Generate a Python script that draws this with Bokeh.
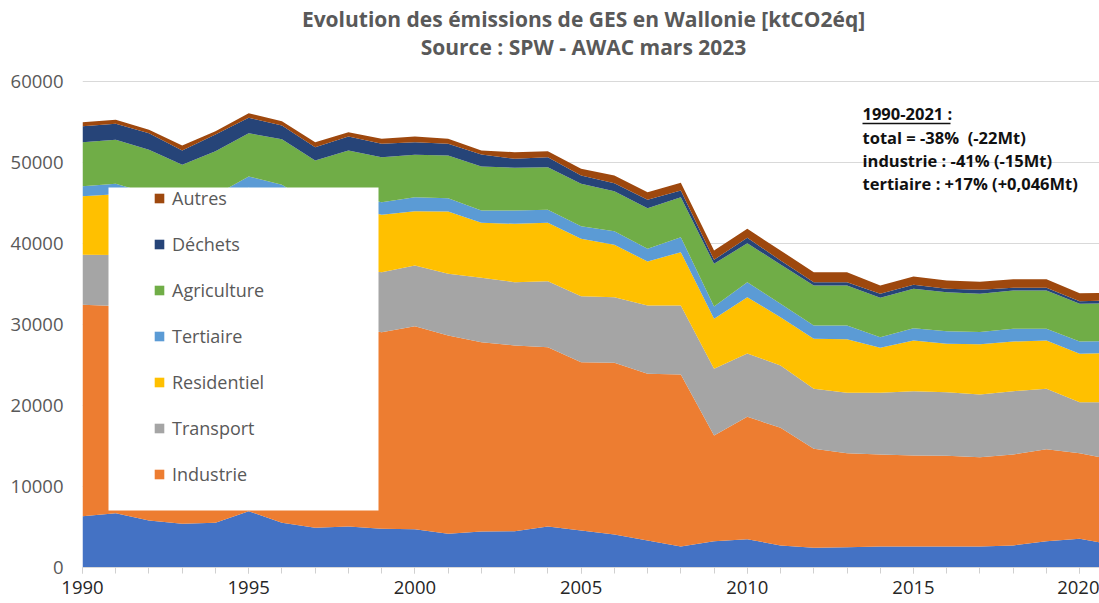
from bokeh.plotting import figure
from bokeh.models import (ColumnDataSource, Range1d, SingleIntervalTicker, FixedTicker, Legend, LegendItem,
                          BoxAnnotation, Label, NumeralTickFormatter)
from bokeh.embed import file_html
from bokeh.resources import INLINE

# ---------------- data (kt CO2eq) ----------------
years = list(range(1990, 2022))

energie = [6340, 6710, 5800, 5390, 5510, 6950, 5510, 4900, 5060, 4770, 4730, 4160, 4440, 4480, 5060, 4570,
           4070, 3330, 2590, 3250, 3500, 2720, 2430, 2500, 2590, 2590, 2590, 2590, 2720, 3250, 3540, 2800]
industrie = [26090, 25560, 25470, 23830, 25490, 25820, 24940, 24050, 24620, 24280, 25060, 24480, 23380, 22930,
             22140, 20780, 21200, 20580, 21240, 13050, 15100, 14520, 12220, 11610, 11360, 11240, 11200, 11030,
             11230, 11360, 10570, 10500]
transport = [6170, 6300, 6500, 6600, 6800, 6900, 7000, 7100, 7300, 7410, 7490, 7620, 7950, 7810, 8150, 8150,
             8100, 8440, 8520, 8230, 7820, 7700, 7410, 7450, 7610, 7940, 7860, 7740, 7820, 7450, 6300, 7100]
residentiel = [7240, 7500, 7100, 7300, 6900, 7200, 8300, 7300, 7500, 7080, 6710, 7690, 6790, 7210, 7210, 7080,
               6470, 5430, 6580, 6170, 6950, 5960, 6170, 6630, 5560, 6260, 5970, 6210, 6130, 5970, 5970, 6100]
tertiaire = [1240, 1300, 1300, 1300, 1300, 1400, 1500, 1400, 1500, 1560, 1730, 1650, 1520, 1650, 1600, 1560,
             1680, 1570, 1850, 1520, 1850, 1650, 1650, 1690, 1310, 1520, 1560, 1490, 1570, 1440, 1520, 1450]
agriculture = [5430, 5430, 5400, 5300, 5400, 5350, 5630, 5500, 5500, 5560, 5230, 5260, 5430, 5270, 5260, 5230,
               4940, 5010, 4940, 5270, 4820, 4860, 4930, 4930, 4860, 4860, 4810, 4730, 4730, 4730, 4650, 4650]
dechets = [1980, 1980, 2050, 1760, 2060, 1900, 1690, 1640, 1730, 1650, 1560, 1450, 1480, 1100, 1240, 1030,
           990, 1040, 820, 500, 680, 490, 410, 410, 500, 490, 420, 500, 330, 330, 330, 350]
autres = [490, 490, 420, 620, 410, 570, 530, 620, 540, 620, 700, 620, 490, 830, 740, 820,
          950, 940, 950, 1150, 1090, 1240, 1240, 1240, 1020, 1030, 1020, 1000, 1060, 1060, 990, 950]

series_names = ["Energie", "Industrie", "Transport", "Residentiel", "Tertiaire", "Agriculture", "Déchets", "Autres"]
series_values = [energie, industrie, transport, residentiel, tertiaire, agriculture, dechets, autres]
colors = ["#4472C4", "#ED7D31", "#A5A5A5", "#FFC000", "#5B9BD5", "#70AD47", "#264478", "#9E480E"]
legend_order = ["Autres", "Déchets", "Agriculture", "Tertiaire", "Residentiel", "Transport", "Industrie"]
y_ticks = [0, 10000, 20000, 30000, 40000, 50000, 60000]

title_1 = "Evolution des émissions de GES en Wallonie [ktCO2éq]"
title_2 = "Source : SPW - AWAC mars 2023"
note_head = "1990-2021 :"
note_lines = ["total = -38% \u00a0(-22Mt)", "industrie : -41% (-15Mt)", "tertiaire : +17% (+0,046Mt)"]

# ---------------- layout ----------------
FONT = "Open Sans"
W, H = 1099, 603
ML, MT, MB, MR = 82, 0, 36, 0
FL, FR, FT, FB = ML, W - MR, MT, H - MB      # frame edges in page px
PX_PER_YEAR = 33.24
PX_PER_UNIT = 486 / 60000.0
X0 = 1990
X1 = X0 + (FR - FL) / PX_PER_YEAR
Y0 = 0
Y1 = (FB - FT) / PX_PER_UNIT


def px_x(px):
    return X0 + (px - FL) / PX_PER_YEAR


def px_y(py):
    return Y0 + (FB - py) / PX_PER_UNIT


src = ColumnDataSource(dict(year=years, **{n: v for n, v in zip(series_names, series_values)}))

p = figure(width=W, height=H, output_backend="svg", toolbar_location=None, title=None,
           x_range=Range1d(X0, X1), y_range=Range1d(Y0, Y1),
           min_border_left=ML, min_border_right=MR, min_border_top=MT, min_border_bottom=MB)
p.outline_line_color = None
p.background_fill_color = "white"
p.border_fill_color = "white"

renderers = p.varea_stack(stackers=series_names, x="year", color=colors, source=src)
by_name = dict(zip(series_names, renderers))

# axes
p.xgrid.grid_line_color = None
p.ygrid.grid_line_color = "#D9D9D9"
p.ygrid.grid_line_width = 1

p.yaxis.ticker = FixedTicker(ticks=y_ticks)
p.yaxis.formatter = NumeralTickFormatter(format="0")
p.yaxis.axis_line_color = None
p.yaxis.major_tick_line_color = None
p.yaxis.minor_tick_line_color = None
p.yaxis.major_tick_out = 0
p.yaxis.major_tick_in = 0
p.yaxis.major_label_standoff = 19
p.yaxis.major_label_text_font = FONT
p.yaxis.major_label_text_font_size = "18.5px"
p.yaxis.major_label_text_color = "#595959"

p.xaxis.ticker = SingleIntervalTicker(interval=5, num_minor_ticks=5)
p.xaxis.axis_line_color = "#D9D9D9"
p.xaxis.axis_line_width = 1
p.xaxis.major_tick_line_color = "#D0D0D0"
p.xaxis.minor_tick_line_color = "#D0D0D0"
p.xaxis.major_tick_in = 0
p.xaxis.major_tick_out = 6
p.xaxis.minor_tick_in = 0
p.xaxis.minor_tick_out = 6
p.xaxis.major_label_standoff = 7
p.xaxis.major_label_text_font = FONT
p.xaxis.major_label_text_font_size = "18.5px"
p.xaxis.major_label_text_color = "#262626"

# legend box + legend
box = BoxAnnotation(left=px_x(108), right=px_x(378), top=px_y(187), bottom=px_y(510),
                    fill_color="white", fill_alpha=1.0, line_alpha=0)
p.add_layout(box)

legend = Legend(items=[LegendItem(label=n, renderers=[by_name[n]]) for n in legend_order],
                location=(153 - FL, FB - 486), orientation="vertical",
                padding=0, margin=0, spacing=21, label_height=25,
                glyph_height=12, glyph_width=12, label_standoff=7,
                background_fill_alpha=0, border_line_alpha=0,
                label_text_font=FONT, label_text_font_size="18px", label_text_color="#595959")
p.add_layout(legend)

# titles
for txt, py in [(title_1, 18), (title_2, 46)]:
    p.add_layout(Label(x=px_x(583), y=px_y(py), text=txt, text_align="center", text_baseline="middle",
                       text_font=FONT, text_font_style="bold", text_font_size="21px", text_color="#595959"))

# annotation
note_y = [113, 137, 160, 183]
for txt, py in zip([note_head] + note_lines, note_y):
    p.add_layout(Label(x=px_x(862), y=px_y(py), text=txt, text_align="left", text_baseline="middle",
                       text_font=FONT, text_font_style="bold", text_font_size="16.5px", text_color="#111111"))
p.line([px_x(862), px_x(950)], [px_y(123), px_y(123)], line_color="#111111", line_width=1.3)

open("out.html", "w").write(file_html(p, INLINE))
